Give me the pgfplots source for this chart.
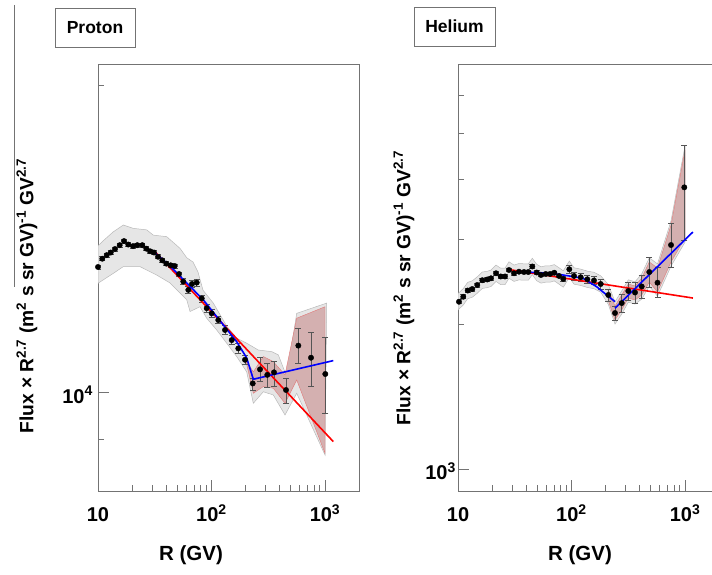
\documentclass[border=0pt]{standalone}
\usepackage{pgfplots}
\pgfplotsset{compat=1.18}
\usepackage{fontspec}
\setmainfont{Liberation Sans}
\definecolor{axgray}{RGB}{115,115,115}
\definecolor{bandgray}{RGB}{230,230,230}
\definecolor{bandedge}{RGB}{185,185,185}
\definecolor{pinkfill}{RGB}{212,176,176}
\definecolor{pinkedge}{RGB}{225,120,120}
\definecolor{ebar}{RGB}{85,85,85}
\begin{document}
\begin{tikzpicture}[x=1pt,y=1pt]
\useasboundingbox (0,0) rectangle (712,574);
\draw[axgray, line width=0.8pt] (14,569) -- (14,287);
% ---------------- Proton ----------------
\begin{axis}[xmode=log, ymode=log, scale only axis, width=261pt, height=427pt,
    xmin=10, xmax=1993,
    axis line style={axgray, line width=0.9pt},
    tick style={axgray, line width=0.8pt},
    tick align=inside, tick pos=left,
    major tick length=11pt, minor tick length=6pt,
    xtick={10,100,1000},
    xticklabels={10,10\textsuperscript{2},10\textsuperscript{3}},
    minor xtick={20,30,40,50,60,70,80,90,200,300,400,500,600,700,800,900,2000},
    ticklabel style={font=\fontsize{20}{24}\selectfont\bfseries},
    xticklabel style={anchor=base, yshift=-31pt},
    yticklabel style={anchor=east, inner sep=0pt, xshift=-5pt, yshift=-2pt},
  at={(98pt,83pt)}, anchor=south west,
  ymin=8010, ymax=21000, ytick={10000}, yticklabels={10\textsuperscript{4}},
  minor ytick={9000,20000}]
\addplot[fill=bandgray, draw=bandedge, line width=0.5pt] coordinates {
 (10,13930) (11.29,14110) (13.56,14370) (16.71,14600) (20.46,14490) (26.86,14440)
 (30.7,14270) (40.3,14220) (52.8,13850) (60.5,13560) (68.7,13430) (76.0,13130)
 (84.2,12600) (103.7,12240) (136.2,11620) (166.7,11310) (204.2,11180) (258.4,11010)
 (339.2,10970) (387.7,10890) (459.8,10370) (563.2,11960) (1035,12240)
 (1000,8688) (563.2,9986) (444.2,9509) (350.4,9948) (286.1,10020) (233.5,9763)
 (204.2,10480) (166.7,10850) (136.2,11180) (111.1,11520) (90.7,11830) (79.2,12140)
 (64.7,12010) (60.5,12330) (43.1,12810) (32.9,13040) (23.44,13290) (16.71,13290)
 (13.64,13090) (10,12800) (10,13930)};
\addplot[fill=pinkfill, draw=pinkedge, line width=0.4pt] coordinates {
 (200,10770) (233.5,10480) (286.1,10850) (350.4,10725) (444.2,10410) (563.2,11830) (1000,12140)
 (1000,8722) (563.2,10290) (444.2,9763) (350.4,10100) (286.1,10137) (233.5,9986) (200,10770)};
\addplot[only marks, mark=*, mark size=2.7pt, black,
    error bars/.cd, y dir=both, y explicit,
    error bar style={ebar, line width=0.7pt},
    error mark options={ebar, rotate=90, mark size=3pt, line width=0.7pt}] coordinates {
 (10.0,13280) +- (0,60) (10.91,13530) +- (0,60) (11.93,13640) +- (0,60)
 (12.94,13720) +- (0,60) (14.12,13830) +- (0,60) (15.53,13950) +- (0,60)
 (16.95,14080) +- (0,60) (18.49,13970) +- (0,60) (20.34,13920) +- (0,60)
 (22.2,13950) +- (0,60) (24.57,13950) +- (0,60) (26.65,13840) +- (0,60)
 (28.72,13760) +- (0,60) (31.15,13720) +- (0,60) (33.79,13590) +- (0,60)
 (36.86,13480) +- (0,60) (39.98,13380) +- (0,60) (43.7,13330) +- (0,60)
 (47.4,13310) +- (0,60) (51.7,13070) +- (0,60) (56.4,12850) +- (0,80)
 (62.5,12610) +- (0,100) (67.3,12780) +- (0,100) (74.1,12820) +- (0,100)
 (82.0,12370) +- (0,100) (90.7,12100) +- (0,100) (100.4,11960) +- (0,100)
 (114.8,11780) +- (0,100) (131.5,11520) +- (0,110) (150.7,11260) +- (0,110)
 (172.2,11050) +- (0,120) (197.3,10770) +- (0,120)
 (230.7,10210) += (0,127) -= (0,150)
 (267.5,10540) +- (0,280)
 (310.1,10410) += (0,276) -= (0,287)
 (355.4,10470) += (0,255) -= (0,333)
 (453.4,10060) += (0,270) -= (0,297)
 (582.2,11120) += (0,444) -= (0,434)
 (752.7,10820) += (0,640) -= (0,683)
 (1006,10430) += (0,890) -= (0,884)};
\addplot[red, line width=1.6pt] coordinates {(31.78,13745) (1183,8954)};
\addplot[blue, line width=1.6pt] coordinates {(31.78,13710) (43.1,13310) (84.7,12330) (166.7,11220)
 (204.2,10815) (233.5,10307) (1183,10750)};
\end{axis}
% ---------------- Helium ----------------
\begin{axis}[xmode=log, ymode=log, scale only axis, width=261pt, height=427pt,
    xmin=10, xmax=1993,
    axis line style={axgray, line width=0.9pt},
    tick style={axgray, line width=0.8pt},
    tick align=inside, tick pos=left,
    major tick length=11pt, minor tick length=6pt,
    xtick={10,100,1000},
    xticklabels={10,10\textsuperscript{2},10\textsuperscript{3}},
    minor xtick={20,30,40,50,60,70,80,90,200,300,400,500,600,700,800,900,2000},
    ticklabel style={font=\fontsize{20}{24}\selectfont\bfseries},
    xticklabel style={anchor=base, yshift=-31pt},
    yticklabel style={anchor=east, inner sep=0pt, xshift=-2pt, yshift=-2pt},
  at={(458pt,83pt)}, anchor=south west,
  ymin=900, ymax=6960, ytick={1000}, yticklabels={10\textsuperscript{3}},
  minor ytick={2000,3000,4000,5000,6000}]
\addplot[fill=bandgray, draw=bandedge, line width=0.5pt] coordinates {
 (10,2317) (11.13,2373) (12.17,2445) (13.37,2463) (14.79,2511) (16.37,2569) (18.12,2578)
 (19.53,2593) (21.62,2656) (23.78,2616) (25.95,2616) (28.13,2698) (31.14,2656) (34.46,2676)
 (38.14,2672) (41.64,2672) (45.14,2744) (49.36,2666) (53.86,2634) (59.25,2647) (64.66,2647)
 (70.56,2662) (77.62,2622) (84.67,2584) (95.63,2707) (105.2,2622) (120.5,2605) (137.8,2580)
 (157.8,2566) (180.8,2523) (211,2420) (241.6,2227) (276.9,2347) (316.6,2475) (362.6,2451)
 (415.4,2546) (484.7,2750) (572.3,2671) (752.9,3282) (1000,4701)
 (1000,2965) (752.9,2643) (572.3,2288) (484.7,2401) (415.4,2256) (362.6,2203) (316.6,2224)
 (276.9,2100) (241.6,2002) (211,2200) (180.8,2333) (157.8,2372) (137.8,2386) (120.5,2409)
 (105.2,2424) (95.63,2503) (84.67,2389) (77.62,2424) (70.56,2462) (64.66,2447) (59.25,2447)
 (53.86,2436) (49.36,2464) (45.14,2537) (41.64,2470) (38.14,2470) (34.46,2474) (31.14,2456)
 (28.13,2494) (25.95,2418) (23.78,2418) (21.62,2456) (19.53,2397) (18.12,2384) (16.37,2375)
 (14.79,2321) (13.37,2277) (12.17,2261) (11.13,2194) (10,2142) (10,2317)};
\addplot[fill=pinkfill, draw=pinkedge, line width=0.4pt] coordinates {
 (209.7,2368) (241.6,2183) (276.9,2301) (316.6,2426) (362.6,2403) (415.4,2496)
 (484.7,2696) (572.3,2619) (752.9,3218) (1000,4609)
 (1000,3024) (752.9,2696) (572.3,2334) (484.7,2449) (415.4,2301) (362.6,2247)
 (316.6,2268) (276.9,2142) (241.6,2042) (209.7,2247) (209.7,2368)};
\addplot[only marks, mark=*, mark size=2.7pt, black,
    error bars/.cd, y dir=both, y explicit,
    error bar style={ebar, line width=0.7pt},
    error mark options={ebar, rotate=90, mark size=3pt, line width=0.7pt}] coordinates {
 (10.2,2228) +- (0,22) (11.13,2282) +- (0,22) (12.17,2351) +- (0,22) (13.37,2368) +- (0,22)
 (14.79,2414) +- (0,22) (16.37,2470) +- (0,22) (18.12,2479) +- (0,22) (19.53,2493) +- (0,22)
 (21.62,2554) +- (0,22) (23.78,2515) +- (0,22) (25.95,2515) +- (0,22) (28.13,2594) +- (0,22)
 (31.14,2554) +- (0,22) (34.46,2573) +- (0,22) (38.14,2569) +- (0,22) (41.64,2569) +- (0,22)
 (45.14,2638) +- (0,22) (49.36,2563) +- (0,22) (53.86,2533) +- (0,22) (59.25,2545) +- (0,22)
 (64.66,2545) +- (0,22) (70.56,2560) +- (0,22) (77.62,2521) +- (0,22) (84.67,2485) +- (0,30)
 (95.63,2603) +- (0,49) (105.2,2521) +- (0,49) (120.5,2505) +- (0,49) (137.8,2481) +- (0,49)
 (157.8,2467) +- (0,49) (180.8,2426) +- (0,59) (211,2301) +- (0,67) (241.6,2111) +- (0,72)
 (276.9,2214) +- (0,97) (316.6,2346) +- (0,103) (362.6,2329) +- (0,114) (415.4,2397) +- (0,136)
 (484.7,2569) += (0,191) -= (0,178)
 (572.3,2441) += (0,182) -= (0,170)
 (752.9,2924) += (0,325) -= (0,292)
 (985.8,3855) += (0,860) -= (0,864)};
\addplot[red, line width=1.6pt] coordinates {(28,2600) (1173,2268)};
\addplot[blue, line width=1.6pt] coordinates {(44,2566) (64.6,2554) (84.1,2533) (126.2,2493) (166.7,2394)
 (204.3,2301) (241.5,2229)};
\addplot[blue, line width=1.6pt] coordinates {(241.5,2160) (1173,3112)};
\end{axis}
% ---------------- texts ----------------
\node[draw=axgray, line width=0.9pt, minimum width=80pt, minimum height=39pt,
  font=\fontsize{17.5}{20}\selectfont\bfseries] at (95,546.5) {Proton};
\node[draw=axgray, line width=0.9pt, minimum width=81pt, minimum height=39pt,
  font=\fontsize{17.5}{20}\selectfont\bfseries] at (454.5,547.5) {Helium};
\node[rotate=90, font=\fontsize{19.2}{23}\selectfont\bfseries] at (27,278)
  {Flux × R\textsuperscript{2.7} (m\textsuperscript{2} s sr GV)\textsuperscript{-1} GV\textsuperscript{2.7}};
\node[rotate=90, font=\fontsize{19.2}{23}\selectfont\bfseries] at (404,286)
  {Flux × R\textsuperscript{2.7} (m\textsuperscript{2} s sr GV)\textsuperscript{-1} GV\textsuperscript{2.7}};
\node[font=\fontsize{20.5}{24}\selectfont\bfseries] at (191,19) {R (GV)};
\node[font=\fontsize{20.5}{24}\selectfont\bfseries] at (580,19) {R (GV)};
\end{tikzpicture}
\end{document}
